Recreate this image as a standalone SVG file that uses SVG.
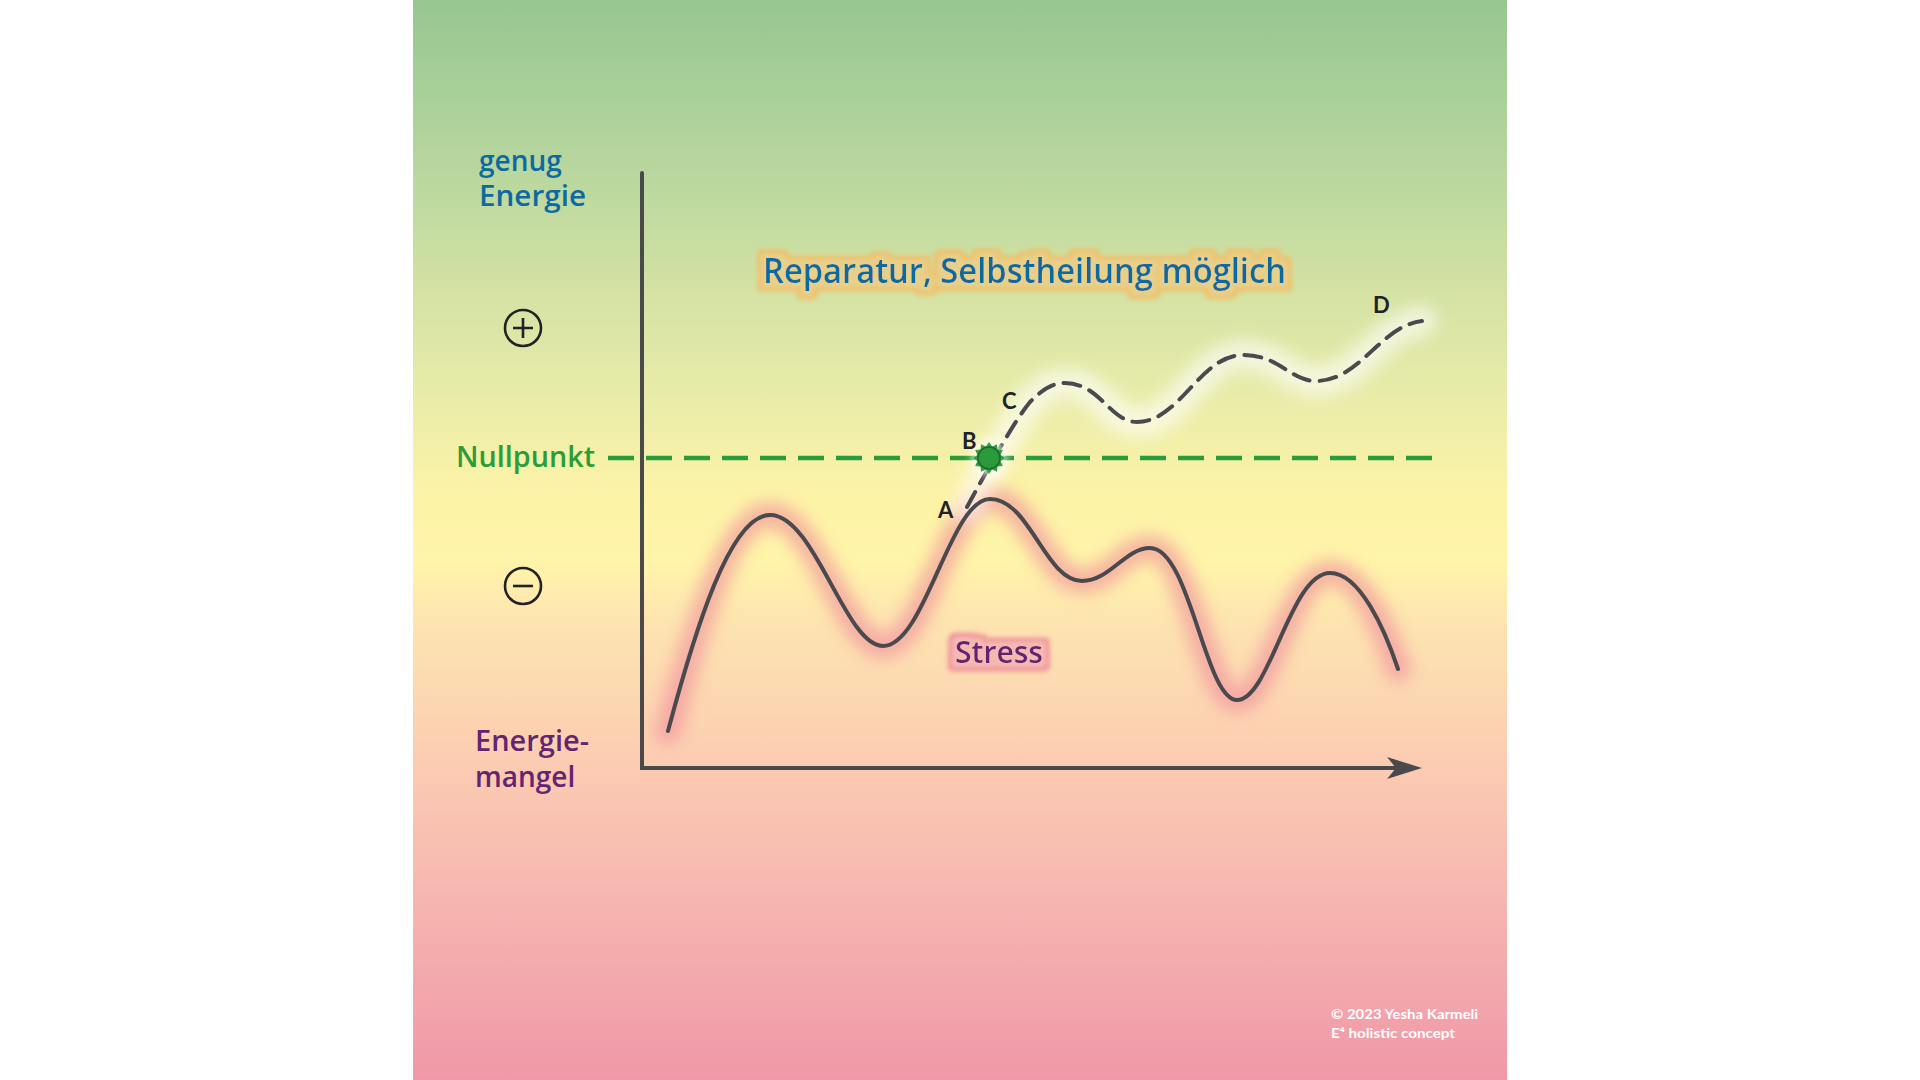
<svg xmlns="http://www.w3.org/2000/svg" width="1920" height="1080" viewBox="0 0 1920 1080">
<defs>
<linearGradient id="bg" x1="0" y1="0" x2="0" y2="1080" gradientUnits="userSpaceOnUse">
<stop offset="0" stop-color="#97c691"/>
<stop offset="0.14" stop-color="#b4d59d"/>
<stop offset="0.28" stop-color="#d6e3a4"/>
<stop offset="0.39" stop-color="#eeeeaa"/>
<stop offset="0.46" stop-color="#fdf3a6"/>
<stop offset="0.52" stop-color="#fff4a9"/>
<stop offset="0.58" stop-color="#fde3b0"/>
<stop offset="0.70" stop-color="#fccdb2"/>
<stop offset="0.83" stop-color="#f6b6b0"/>
<stop offset="1" stop-color="#f098a8"/>
</linearGradient>
<filter id="blur8" x="-20%" y="-60%" width="140%" height="220%"><feGaussianBlur stdDeviation="8"/></filter>
<filter id="blur14" x="-20%" y="-400%" width="140%" height="900%"><feGaussianBlur stdDeviation="14"/></filter>
<filter id="blur4" x="-100%" y="-100%" width="300%" height="300%"><feGaussianBlur stdDeviation="4"/></filter>
<filter id="haloGold" x="-10%" y="-80%" width="120%" height="260%">
<feMorphology in="SourceAlpha" operator="dilate" radius="8" result="d1"/>
<feGaussianBlur in="d1" stdDeviation="2.5" result="b1"/>
<feFlood flood-color="#f2bc64"/>
<feComposite in2="b1" operator="in" result="outer"/>
<feMorphology in="SourceAlpha" operator="dilate" radius="5" result="d2"/>
<feGaussianBlur in="d2" stdDeviation="2" result="b2"/>
<feFlood flood-color="#e6d08a"/>
<feComposite in2="b2" operator="in" result="inner"/>
<feMerge><feMergeNode in="outer"/><feMergeNode in="inner"/><feMergeNode in="SourceGraphic"/></feMerge>
</filter>
<filter id="haloPink" x="-20%" y="-80%" width="140%" height="260%">
<feMorphology in="SourceAlpha" operator="dilate" radius="8" result="d1"/>
<feGaussianBlur in="d1" stdDeviation="2.5" result="b1"/>
<feFlood flood-color="#ee8a96"/>
<feComposite in2="b1" operator="in" result="outer"/>
<feMorphology in="SourceAlpha" operator="dilate" radius="5" result="d2"/>
<feGaussianBlur in="d2" stdDeviation="2" result="b2"/>
<feFlood flood-color="#f6b8b2"/>
<feComposite in2="b2" operator="in" result="inner"/>
<feMerge><feMergeNode in="outer"/><feMergeNode in="inner"/><feMergeNode in="SourceGraphic"/></feMerge>
</filter>
<style>
.lbl{font-family:"Open Sans","Noto Sans","Liberation Sans",sans-serif;font-weight:650}
.blue{fill:#0d6aa0}
.purple{fill:#652470}
.green{fill:#2a9d3a}
.letter{font-family:"Lato","Noto Sans","Liberation Sans",sans-serif;font-weight:700;font-size:22px;fill:#222226}
.copy{font-family:"Lato","Noto Sans","Liberation Sans",sans-serif;font-weight:700;font-size:14px;fill:#ffffff}
.axis{fill:none;stroke:#4a4a4e;stroke-width:4;stroke-linecap:round}
.curve{fill:none;stroke:#4a4a4e;stroke-width:4;stroke-linecap:round}
.sym{fill:none;stroke:#222226;stroke-width:2.6}
</style>
</defs>
<rect width="1920" height="1080" fill="#ffffff"/>
<rect x="413" y="0" width="1094" height="1080" fill="url(#bg)"/>

<g id="glows">
<path d="M570,458 H1460" stroke="#f0e060" stroke-width="44" opacity="0.55" fill="none" filter="url(#blur14)"/>
<path d="M668,731 C695,630 730,515 770,515 C815,515 845,646 883,646 C925,646 950,499 990,499 C1030,499 1045,581 1082,581 C1110,581 1125,548 1150,548 C1190,548 1205,700 1237,700 C1270,700 1290,573 1330,573 C1360,573 1385,630 1398,669" fill="none" stroke="#f08c9c" stroke-width="26" stroke-linecap="round" opacity="0.6" filter="url(#blur8)"/>
<path d="M967,507 C990,465 1015,420 1030,402 C1042,390 1052,383 1065,383 C1100,383 1110,422 1137,422 C1180,422 1200,355 1243,355 C1280,355 1290,381 1316,381 C1360,381 1380,326 1422,321" fill="none" stroke="#ffffff" stroke-width="30" stroke-linecap="round" opacity="0.6" filter="url(#blur8)"/>
</g>

<g id="connectors">
<path id="axes" class="axis" d="M642,173 V768 H1398"/>
<path id="arrowhead" d="M1422,768 L1387,757 L1396,768 L1387,779 Z" fill="#4a4a4e"/>
<path id="nullpunkt-line" d="M608,458 H1439" fill="none" stroke="#2a9d3a" stroke-width="4.5" stroke-dasharray="26 12"/>
<path id="stress-curve" class="curve" d="M668,731 C695,630 730,515 770,515 C815,515 845,646 883,646 C925,646 950,499 990,499 C1030,499 1045,581 1082,581 C1110,581 1125,548 1150,548 C1190,548 1205,700 1237,700 C1270,700 1290,573 1330,573 C1360,573 1385,630 1398,669"/>
<path id="recovery-curve" class="curve" stroke-dasharray="17 10" d="M967,507 C990,465 1015,420 1030,402 C1042,390 1052,383 1065,383 C1100,383 1110,422 1137,422 C1180,422 1200,355 1243,355 C1280,355 1290,381 1316,381 C1360,381 1380,326 1422,321"/>
</g>

<g id="label-genug-energie">
<text class="lbl blue" x="479" y="171" font-size="28">genug</text>
<text class="lbl blue" x="479" y="206" font-size="28" textLength="107" lengthAdjust="spacingAndGlyphs">Energie</text>
</g>
<g id="symbol-plus">
<circle class="sym" cx="523" cy="328" r="18"/>
<path class="sym" stroke-width="3.2" d="M513,328 H533 M523,318 V338"/>
</g>
<g id="label-nullpunkt">
<text class="lbl green" x="456" y="467" font-size="28" textLength="139" lengthAdjust="spacingAndGlyphs">Nullpunkt</text>
</g>
<g id="symbol-minus">
<circle class="sym" cx="523" cy="586" r="18"/>
<path class="sym" stroke-width="3.2" d="M513,586 H533"/>
</g>
<g id="label-energiemangel">
<text class="lbl purple" x="475" y="751" font-size="28" textLength="114" lengthAdjust="spacingAndGlyphs">Energie-</text>
<text class="lbl purple" x="475" y="787" font-size="28">mangel</text>
</g>
<g id="label-reparatur">
<text class="lbl blue" x="763" y="283" font-size="35" textLength="523" lengthAdjust="spacingAndGlyphs" filter="url(#haloGold)">Reparatur, Selbstheilung möglich</text>
</g>
<g id="label-stress">
<text class="lbl purple" x="955" y="663" font-size="31" textLength="88" lengthAdjust="spacingAndGlyphs" filter="url(#haloPink)">Stress</text>
</g>

<g id="point-B-marker">
<circle cx="989" cy="458" r="17" fill="#ffffff" opacity="0.8" filter="url(#blur4)"/>
<polygon transform="translate(989,458)" fill="#34a040" points="16,0 11.59,3.11 13.86,8 8.49,8.49 8,13.86 3.11,11.59 0,16 -3.11,11.59 -8,13.86 -8.49,8.49 -13.86,8 -11.59,3.11 -16,0 -11.59,-3.11 -13.86,-8 -8.49,-8.49 -8,-13.86 -3.11,-11.59 0,-16 3.11,-11.59 8,-13.86 8.49,-8.49 13.86,-8 11.59,-3.11"/>
<circle cx="989" cy="458" r="11" fill="#2b9a3a" stroke="#1e6a2a" stroke-width="1.6"/>
</g>

<g id="point-labels">
<text class="letter" x="938" y="518">A</text>
<text class="letter" x="962" y="449">B</text>
<text class="letter" x="1002" y="409">C</text>
<text class="letter" x="1373" y="313">D</text>
</g>

<g id="copyright">
<text class="copy" x="1331" y="1019" textLength="147" lengthAdjust="spacingAndGlyphs">© 2023 Yesha Karmeli</text>
<text class="copy" x="1331" y="1038" textLength="124" lengthAdjust="spacingAndGlyphs">E⁴ holistic concept</text>
</g>
</svg>
